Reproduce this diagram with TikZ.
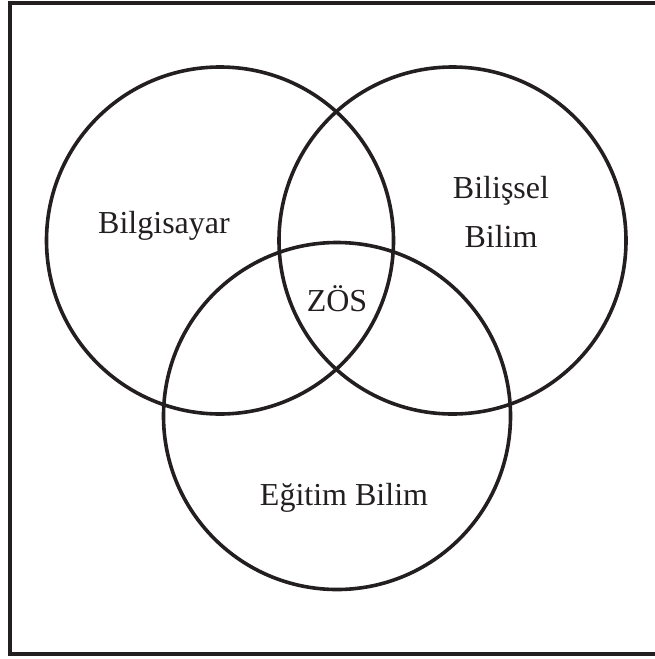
\documentclass[tikz,border=0pt]{standalone}
\usepackage{fontspec}
\setmainfont{Liberation Serif}
\definecolor{ink}{HTML}{231F20}
\begin{document}
\begin{tikzpicture}[x=1pt,y=-1pt,
  ring/.style={draw=ink,line width=3.6pt},
  frame/.style={draw=ink,line width=3.8pt},
  lbl/.style={text=ink,font=\fontsize{32}{37}\selectfont,anchor=base,inner sep=0pt,align=center}]
\useasboundingbox (0,0) rectangle (655,659);
\begin{scope}
\clip (0,0) rectangle (655,659);
\draw[frame] (10,2.8) rectangle (660,654);
\end{scope}
\node[ring,circle,minimum size=347pt,inner sep=0pt] (A) at (220,240.5) {};
\node[ring,circle,minimum size=347pt,inner sep=0pt] (B) at (452.5,240.5) {};
\node[ring,circle,minimum size=347pt,inner sep=0pt] (C) at (337,416) {};
\node[lbl] (tA) at (164,233) {Bilgisayar};
\node[lbl,anchor=south] (tB1) at (501,210) {\strut Bilişsel};
\node[lbl] (tB2) at (501,247) {Bilim};
\node[lbl] (tZ) at (337,311) {ZÖS};
\node[lbl] (tC) at (344,505) {Eğitim Bilim};
\end{tikzpicture}
\end{document}
